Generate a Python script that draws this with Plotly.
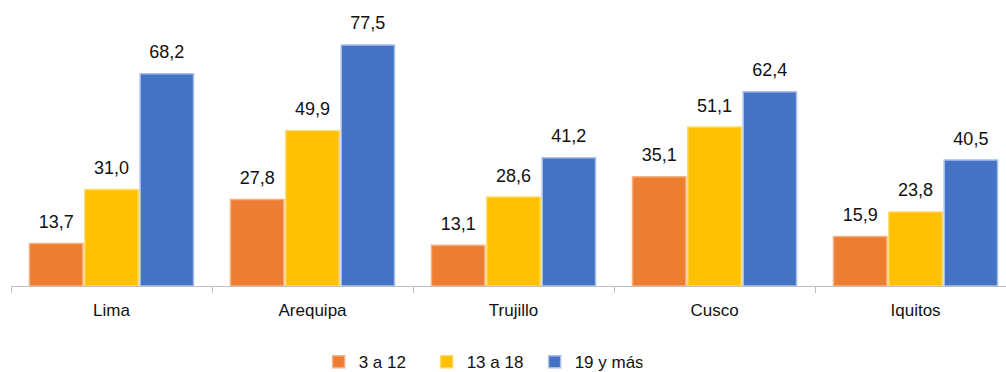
import plotly.graph_objects as go

ciudades = ["Lima", "Arequipa", "Trujillo", "Cusco", "Iquitos"]
series = ["3 a 12", "13 a 18", "19 y más"]
valores_3_12 = [13.7, 27.8, 13.1, 35.1, 15.9]
valores_13_18 = [31.0, 49.9, 28.6, 51.1, 23.8]
valores_19_mas = [68.2, 77.5, 41.2, 62.4, 40.5]

colores = ["#ED7D31", "#FFC000", "#4472C4"]
bordes = ["#F4B183", "#FFD966", "#A9C0E8"]
fuente = "Liberation Sans, Arial, sans-serif"

fig = go.Figure()
for nombre, valores, color, borde in zip(
    series, [valores_3_12, valores_13_18, valores_19_mas], colores, bordes
):
    fig.add_trace(
        go.Bar(
            x=ciudades,
            y=valores,
            name=nombre,
            offsetgroup=nombre,
            marker={"color": color, "line": {"color": borde, "width": 1.5}},
        )
    )

# etiquetas encima de las barras
for nombre, valores in zip(series, [valores_3_12, valores_13_18, valores_19_mas]):
    fig.add_trace(
        go.Scatter(
            x=ciudades,
            y=valores,
            mode="markers+text",
            offsetgroup=nombre,
            text=[f"{v:.1f}".replace(".", ",") for v in valores],
            textposition="top center",
            textfont={"size": 18, "color": "#111111", "family": fuente},
            marker={"size": 16, "opacity": 0},
            showlegend=False,
            hoverinfo="skip",
            cliponaxis=False,
        )
    )

fig.update_layout(
    width=1006,
    height=372,
    barmode="group",
    scattermode="group",
    bargap=0.174,
    bargroupgap=0.035,
    plot_bgcolor="white",
    paper_bgcolor="white",
    font={"family": fuente, "size": 17, "color": "#111111"},
    margin={"l": 11, "r": 0, "t": 20, "b": 86, "autoexpand": False},
    legend={
        "orientation": "h",
        "x": 0.472,
        "xanchor": "center",
        "y": -0.286,
        "yanchor": "middle",
        "font": {"size": 17},
        "itemwidth": 30,
        "entrywidth": 63,
        "entrywidthmode": "pixels",
    },
)
fig.update_xaxes(
    range=[-0.5, 4.45],
    automargin=False,
    showline=True,
    linecolor="#BFBFBF",
    linewidth=1,
    ticks="outside",
    tickson="boundaries",
    ticklen=6,
    tickcolor="#BFBFBF",
    ticklabelstandoff=9,
    showgrid=False,
    tickfont={"size": 17},
)
fig.update_yaxes(range=[0, 85.5], visible=False, showgrid=False, automargin=False)

fig.write_html(
    "out.html",
    config={"displayModeBar": False},
    post_script="document.body.style.margin = '0';",
)
